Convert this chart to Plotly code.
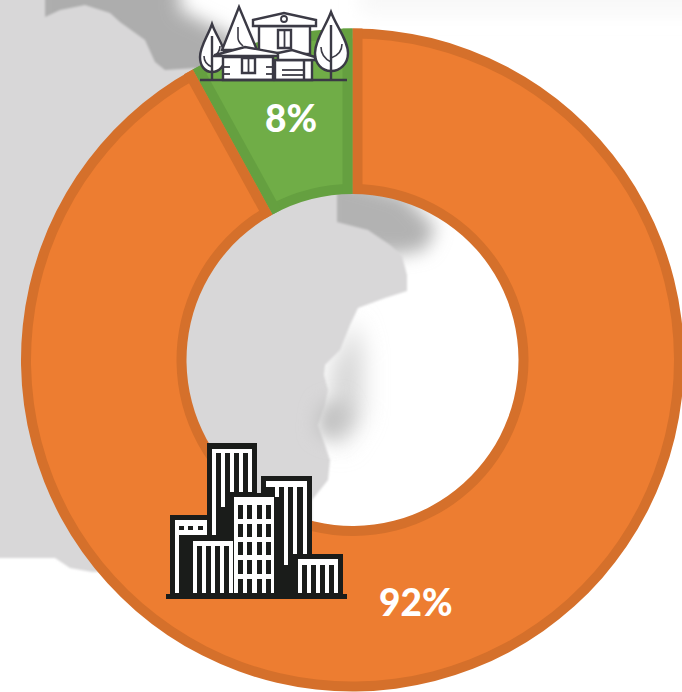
import base64
import math
import re
import plotly.graph_objects as go

labels = ["Urban", "Rural"]
shares = [92, 8]
light_colors = ["#ED7D31", "#70AD47"]
dark_colors = ["#D5702B", "#65A040"]

W, H = 700, 700
CX, CY, R, R_IN, BAND = 352.5, 360, 331.5, 166, 10


def px(x):
    return x / W


def py(y):
    return 1 - y / H


shapes = []
REF = dict(xref="paper", yref="paper", layer="above")


def path(d, fill="white", line=None, lw=0):
    """d is an SVG path written in page pixels: pairs are converted to paper fractions."""
    conv = re.sub(r"(-?[\d.]+),(-?[\d.]+)", lambda m: f"{px(float(m[1])):.5f},{py(float(m[2])):.5f}", d)
    shapes.append(dict(type="path", path=conv, fillcolor=fill,
                       line=dict(color=line or "rgba(0,0,0,0)", width=lw), **REF))


def rect(x0, y0, x1, y1, fill):
    shapes.append(dict(type="rect", x0=px(x0), x1=px(x1), y0=py(y1), y1=py(y0),
                       fillcolor=fill, line=dict(width=0), **REF))


def seg(x0, y0, x1, y1, color, w):
    shapes.append(dict(type="line", x0=px(x0), x1=px(x1), y0=py(y0), y1=py(y1),
                       line=dict(color=color, width=w), **REF))


# side bands along the radial edges of each slice
boundaries = [(0.0, 0, 1), (shares[0] / sum(shares) * 2 * math.pi, 1, 0)]
for a, cw_slice, ccw_slice in boundaries:
    dx, dy = math.sin(a), -math.cos(a)
    nx, ny = math.cos(a), math.sin(a)
    for sign, slice_i in ((1, cw_slice), (-1, ccw_slice)):
        off = sign * BAND / 2
        seg(CX + dx * R_IN + nx * off, CY + dy * R_IN + ny * off,
            CX + dx * R + nx * off, CY + dy * R + ny * off, dark_colors[slice_i], BAND)

# city icon
K = "#1A1C1A"
for b in [(207, 443, 257, 596), (261, 476, 312, 596), (170, 515, 207, 596), (293, 554, 343, 596),
          (232, 493, 277, 596), (188, 537, 237, 596), (166, 594, 347, 599)]:
    rect(*b, K)
rect(212, 449, 252, 453, "white")
for x, yb in [(212, 535), (221, 507), (230, 492), (239, 492), (248, 492)]:
    rect(x, 449, x + 4, yb, "white")
rect(266, 481, 307, 487, "white")
for x, yb in [(275, 497), (284, 565), (293, 554), (303, 554)]:
    rect(x, 481, x + 4, yb, "white")
rect(175, 520, 207, 535, "white")
rect(175, 520, 179, 593, "white")
for x in (179, 188, 198):
    rect(x, 526, x + 5, 530, K)
rect(179, 535, 183, 539, K)
rect(193, 541, 233, 546, "white")
for x in (193, 202, 211, 220, 229):
    rect(x, 541, x + 4, 593, "white")
rect(234, 497, 274, 593, "white")
for x in (238, 247, 257, 266):
    for y0, y1 in [(505, 519), (524, 537), (542, 555), (560, 574), (579, 593)]:
        rect(x, y0, x + 5, y1, K)
rect(298, 559, 338, 565, "white")
for x in (298, 307, 316, 325, 334):
    rect(x, 559, x + 4, 593, "white")

# village icon
S = "#3B3A45"
LW = 2.4
NONE = "rgba(0,0,0,0)"
path("M212,24 C208,36 200,46 200,57 C200,66 205,72 212,72 C219,72 225,66 225,57 C225,46 216,36 212,24 Z", "white", S, LW)
seg(212, 36, 212, 80, S, LW)
path("M204,56 C204,62 207,65 212,67", NONE, S, 1.6)
path("M220,46 C220,52 217,55 212,57", NONE, S, 1.6)
path("M239,7 L222,50 L257,50 Z", "white", S, LW)
path("M238,27 L238,38 C238,42 241,44 243,46", NONE, S, 1.6)
path("M331,12 C326,26 315,40 315,53 C315,64 322,71 331,71 C340,71 348,64 348,53 C348,40 336,26 331,12 Z", "white", S, LW)
seg(331, 25, 331, 80, S, LW)
path("M321,47 C321,55 325,59 331,62", NONE, S, 1.6)
path("M342,44 C342,52 337,56 331,58", NONE, S, 1.6)
path("M259,26 L310,26 L310,54 L259,54 Z", "white", S, LW)
path("M253,20 L284,13 L316,20 L316,26 L253,26 Z", "white", S, LW)
shapes.append(dict(type="circle", x0=px(281), x1=px(287), y0=py(22), y1=py(16),
                   fillcolor="white", line=dict(color=S, width=1.8), **REF))
path("M278,30 L291,30 L291,48 L278,48 Z", "white", S, LW)
seg(284.5, 30, 284.5, 48, S, 1.8)
path("M223,57 L273,57 L273,80 L223,80 Z", "white", S, LW)
path("M215,55 L245,47 L278,53 L278,56 L215,56 Z", "white", S, LW)
path("M242,58 L255,58 L255,73 L242,73 Z", "white", S, LW)
seg(248.5, 58, 248.5, 73, S, 1.8)
for y in (67, 74):
    seg(223, y, 230, y, S, 1.8)
    seg(266, y, 273, y, S, 1.8)
path("M275,60 L312,60 L312,80 L275,80 Z", "white", S, LW)
path("M278,53 L292,50 L315,57 L315,60 L278,60 Z", "white", S, LW)
seg(304, 61, 304, 80, S, LW)
for y in (70, 75):
    seg(282, y, 304, y, S, 1.8)
seg(200, 80, 347, 80, S, LW)

# blurred map backdrop
FR = 'filterUnits="userSpaceOnUse" x="-100" y="-100" width="900" height="900"'
svg = f'''<svg xmlns="http://www.w3.org/2000/svg" width="{W}" height="{H}" viewBox="0 0 {W} {H}">
<defs>
<filter id="a" {FR}><feGaussianBlur stdDeviation="1.2"/></filter>
<filter id="s" {FR}><feGaussianBlur stdDeviation="9"/></filter>
<filter id="u" {FR}><feGaussianBlur stdDeviation="12"/></filter>
</defs>
<rect width="{W}" height="{H}" fill="white"/>
<rect x="360" y="-20" width="360" height="34" fill="#F8F8F8" filter="url(#s)"/>
<path d="M30,-30 L180,-30 L180,10 L225,32 L265,60 L260,95 L120,95 L30,40 Z" fill="#ADADAD" filter="url(#s)"/>
<path d="M320,175 L337,175 L405,195 L436,228 L425,250 L395,255 L320,245 Z" fill="#B2B2B2" filter="url(#s)"/>
<path d="M352,318 L342,350 L330,370 L332,425 L340,450 L362,415 L362,350 Z" fill="#D4D4D4" filter="url(#u)"/>
<path d="M-30,-30 L45,-30 L45,17 L60,10 L85,5 L110,13 L120,22 L145,40 L155,62 L165,70 L195,68 L337,190 L337,222 L368,230 L390,245 L402,256 L407,275 L407,291 L385,298 L358,308 L350,325 L340,350 L325,365 L324,375 L328,390 L325,405 L318,425 L325,445 L330,460 L328,480 L312,500 L312,560 L110,572 L92,572 L70,568 L55,558 L-30,558 Z" fill="#D8D7D8" filter="url(#a)"/>
<path d="M315,432 L320,405 L342,398 L352,420 L335,442 Z" fill="#C2C2C2" filter="url(#s)"/>
</svg>'''
source = "data:image/svg+xml;base64," + base64.b64encode(svg.encode()).decode()

outer = dict(x=[(CX - R) / W, (CX + R) / W], y=[1 - (CY + R) / H, 1 - (CY - R) / H])
ri = R - BAND
inner = dict(x=[(CX - ri) / W, (CX + ri) / W], y=[1 - (CY + ri) / H, 1 - (CY - ri) / H])

common = dict(labels=labels, values=shares, sort=False, direction="clockwise", rotation=0,
              textinfo="none", hoverinfo="label+percent", showlegend=False)
fig = go.Figure()
fig.add_trace(go.Pie(domain=outer, hole=R_IN / R, marker=dict(colors=dark_colors, line=dict(width=0)), **common))
fig.add_trace(go.Pie(domain=inner, hole=(R_IN + BAND) / ri, marker=dict(colors=light_colors, line=dict(width=0)), **common))

FONT = dict(family="Lato", size=37, color="white", weight=900)
annotations = [
    dict(text=f"{shares[0]}%", x=px(416), y=py(601), xref="paper", yref="paper", showarrow=False,
         font=FONT, xanchor="center", yanchor="middle"),
    dict(text=f"{shares[1]}%", x=px(291), y=py(117), xref="paper", yref="paper", showarrow=False,
         font=FONT, xanchor="center", yanchor="middle"),
]

fig.update_layout(width=W, height=H, autosize=False, margin=dict(l=0, r=0, t=0, b=0),
                  paper_bgcolor="white", shapes=shapes, annotations=annotations,
                  images=[dict(source=source, xref="paper", yref="paper", x=0, y=1, sizex=1, sizey=1,
                               xanchor="left", yanchor="top", sizing="stretch", layer="below")])
fig.write_html("out.html", config=dict(displayModeBar=False),
               post_script="document.body.style.margin='0';document.documentElement.style.overflow='hidden';document.body.style.overflow='hidden';")
